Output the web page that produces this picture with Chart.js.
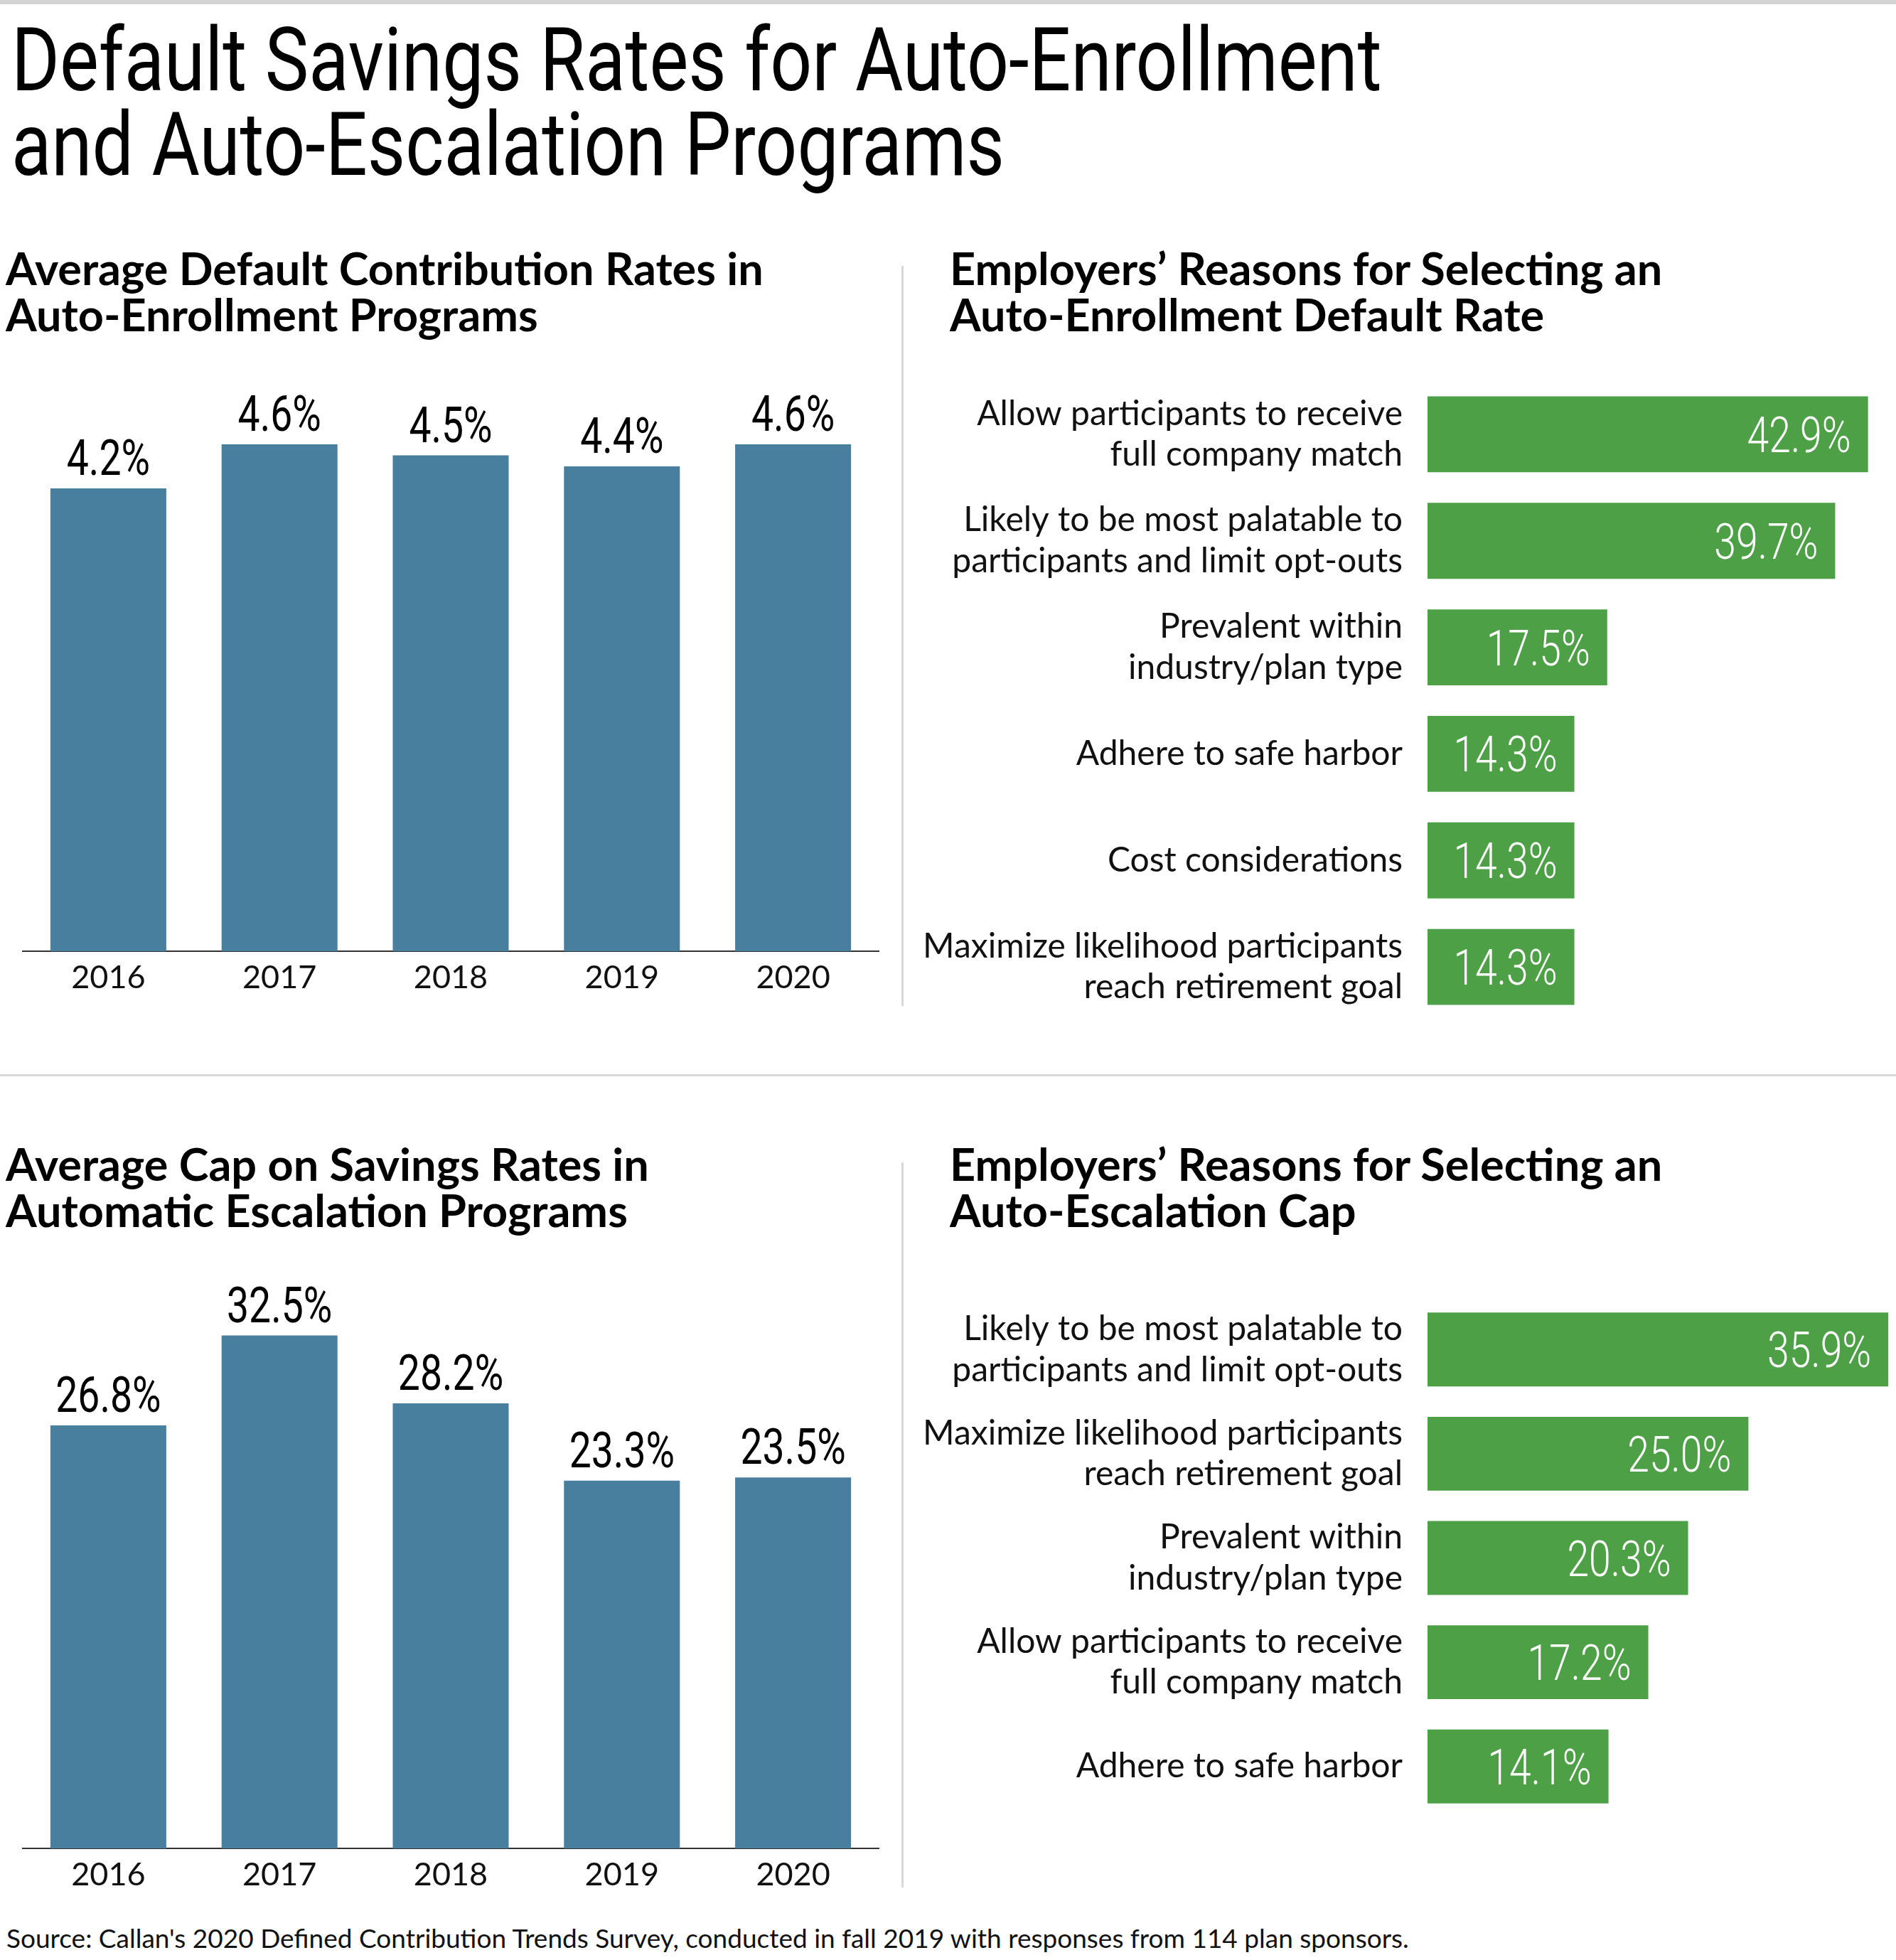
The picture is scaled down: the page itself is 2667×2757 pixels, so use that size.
<!DOCTYPE html>
<html><head><meta charset="utf-8">
<script src="https://cdn.jsdelivr.net/npm/chart.js@4.4.1/dist/chart.umd.min.js"></script>
<style>
html,body{margin:0;padding:0;background:#fff;}
body{width:2667px;height:2757px;position:relative;overflow:hidden;font-family:Lato,sans-serif;color:#111;}
.abs{position:absolute;}
#topbar{left:0;top:0;width:2667px;height:6px;background:#d3d3d3;}
.title{left:16px;font-family:Roboto,sans-serif;font-weight:400;font-size:124px;line-height:124px;white-space:nowrap;transform-origin:0 0;color:#000;}
.sub{font-family:Lato,sans-serif;font-weight:700;font-size:63px;line-height:65px;white-space:nowrap;color:#000;}
.vdiv{width:3px;background:#d8d8d8;left:1268px;}
#hdiv{left:0;top:1511px;width:2667px;height:3px;background:#d8d8d8;}
#source{left:9px;top:2707px;font-size:37px;line-height:37px;white-space:nowrap;color:#111;}
canvas{position:absolute;}
</style>
</head>
<body>
<div id="topbar" class="abs"></div>
<div id="t1" class="abs title" style="top:23px">Default Savings Rates for Auto-Enrollment</div>
<div id="t2" class="abs title" style="top:142px">and Auto-Escalation Programs</div>

<div class="abs sub" style="left:8px;top:344px">Average Default Contribution Rates in<br>Auto-Enrollment Programs</div>
<div class="abs sub" style="left:1336px;top:344px">Employers’ Reasons for Selecting an<br>Auto-Enrollment Default Rate</div>
<div class="abs sub" style="left:8px;top:1604px">Average Cap on Savings Rates in<br>Automatic Escalation Programs</div>
<div class="abs sub" style="left:1336px;top:1604px">Employers’ Reasons for Selecting an<br>Auto-Escalation Cap</div>

<div class="abs vdiv" style="top:374px;height:1041px"></div>
<div id="hdiv" class="abs"></div>
<div class="abs vdiv" style="top:1635px;height:1020px"></div>

<canvas id="c1" width="1260" height="898" style="left:0;top:520px"></canvas>
<canvas id="c2" width="1260" height="920" style="left:0;top:1760px"></canvas>
<canvas id="c3" width="1387" height="945" style="left:1280px;top:500px"></canvas>
<canvas id="c4" width="1387" height="778" style="left:1280px;top:1790px"></canvas>

<div id="source" class="abs">Source: Callan's 2020 Defined Contribution Trends Survey, conducted in fall 2019 with responses from 114 plan sponsors.</div>

<script>
// ---- data ----
const years = ['2016', '2017', '2018', '2019', '2020'];
const defaultRates = [4.2, 4.6, 4.5, 4.4, 4.6];
const capRates = [26.8, 32.5, 28.2, 23.3, 23.5];

const enrollReasons = [
  ['Allow participants to receive', 'full company match'],
  ['Likely to be most palatable to', 'participants and limit opt-outs'],
  ['Prevalent within', 'industry/plan type'],
  'Adhere to safe harbor',
  'Cost considerations',
  ['Maximize likelihood participants', 'reach retirement goal']
];
const enrollValues = [42.9, 39.7, 17.5, 14.3, 14.3, 14.3];

const capReasons = [
  ['Likely to be most palatable to', 'participants and limit opt-outs'],
  ['Maximize likelihood participants', 'reach retirement goal'],
  ['Prevalent within', 'industry/plan type'],
  ['Allow participants to receive', 'full company match'],
  'Adhere to safe harbor'
];
const capValues = [35.9, 25.0, 20.3, 17.2, 14.1];

// ---- styles ----
const BLUE = '#487f9e';
const GREEN = '#4da046';
const TEXT = '#111111';

// title fit (condensed look)
(function(){
  const t1 = document.getElementById('t1'), t2 = document.getElementById('t2');
  const s = 1928 / t1.offsetWidth;
  t1.style.transform = 'scaleX(' + s + ')';
  t2.style.transform = 'scaleX(' + s + ')';
})();

const valueLabels = {
  id: 'valueLabels',
  afterDatasetsDraw(chart, args, opts) {
    const ctx = chart.ctx;
    const meta = chart.getDatasetMeta(0);
    const data = chart.data.datasets[0].data;
    ctx.save();
    ctx.fillStyle = opts.color;
    ctx.font = opts.font;
    ctx.textBaseline = 'alphabetic';
    meta.data.forEach((el, i) => {
      const txt = data[i].toFixed(1) + '%';
      ctx.save();
      if (opts.inside) {
        ctx.translate(el.x - opts.pad, el.y + opts.cap / 2);
        ctx.scale(opts.sx, 1);
        ctx.textAlign = 'right';
      } else {
        ctx.translate(el.x, el.y - opts.pad);
        ctx.scale(opts.sx, 1);
        ctx.textAlign = 'center';
      }
      ctx.fillText(txt, 0, 0);
      ctx.restore();
    });
    ctx.restore();
  }
};

function columnChart(id, values, max, padTop) {
  return new Chart(document.getElementById(id), {
    type: 'bar',
    data: { labels: years, datasets: [{ data: values, backgroundColor: BLUE, borderWidth: 0,
      categoryPercentage: 1, barPercentage: 0.677 }] },
    options: {
      responsive: false, animation: false, devicePixelRatio: 1,
      layout: { padding: { top: padTop, left: 32, right: 24, bottom: 0 } },
      plugins: { legend: { display: false }, tooltip: { enabled: false },
        valueLabels: { font: '400 70px Roboto', color: '#000', sx: 0.79, pad: 19, inside: false } },
      scales: {
        x: {
          grid: { display: false, drawTicks: false },
          border: { display: true, color: '#333', width: 2 },
          ticks: { color: TEXT, font: { family: 'Lato', size: 45 }, padding: 10, autoSkip: false, maxRotation: 0 },
          afterFit(s) { s.height = 80; }
        },
        y: { display: false, min: 0, max: max }
      }
    },
    plugins: [valueLabels]
  });
}

function reasonChart(id, labels, values, max, padTop, pct) {
  return new Chart(document.getElementById(id), {
    type: 'bar',
    data: { labels: labels, datasets: [{ data: values, backgroundColor: GREEN, borderWidth: 0,
      categoryPercentage: 1, barPercentage: pct }] },
    options: {
      indexAxis: 'y',
      responsive: false, animation: false, devicePixelRatio: 1,
      layout: { padding: { top: padTop, left: 0, right: 9, bottom: 10 } },
      plugins: { legend: { display: false }, tooltip: { enabled: false },
        valueLabels: { font: '300 70px Roboto', color: '#fff', sx: 0.79, pad: 24, cap: 50, inside: true } },
      scales: {
        x: { display: false, min: 0, max: max },
        y: {
          grid: { display: false, drawTicks: false },
          border: { display: false },
          ticks: { color: TEXT, font: { family: 'Lato', size: 48, lineHeight: 1.2 }, padding: 35, autoSkip: false },
          afterFit(s) { s.width = 728; s.paddingTop = 0; s.paddingBottom = 0; }
        }
      }
    },
    plugins: [valueLabels]
  });
}

columnChart('c1', defaultRates, 5, 43);
columnChart('c2', capRates, 35, 63);
reasonChart('c3', enrollReasons, enrollValues, 45, 36, 0.713);
reasonChart('c4', capReasons, capValues, 36, 35, 0.709);
</script>
</body></html>
